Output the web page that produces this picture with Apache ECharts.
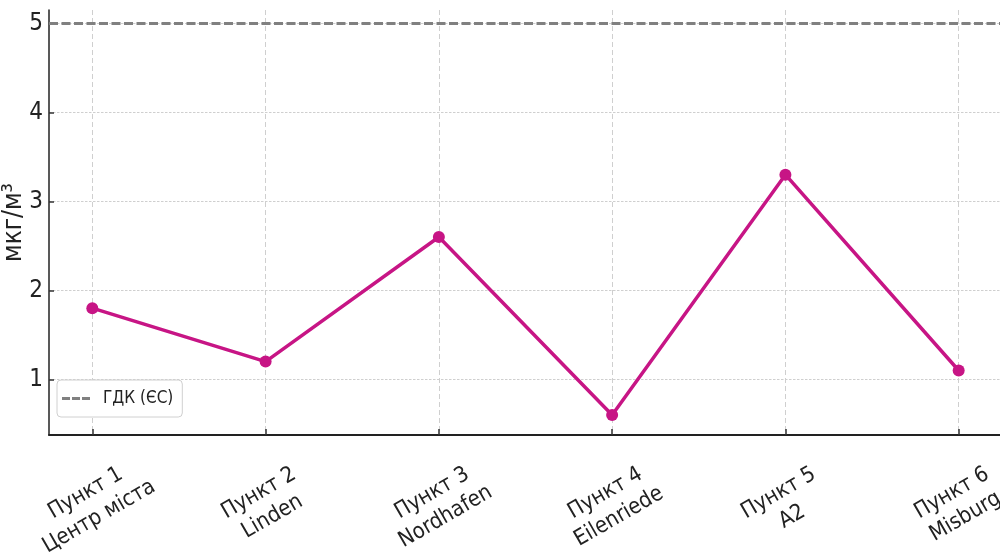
<!DOCTYPE html>
<html>
<head>
<meta charset="utf-8">
<script src="https://cdn.jsdelivr.net/npm/echarts@6/dist/echarts.min.js"></script>
<style>
html,body{margin:0;padding:0;background:#fff;}
#chart{width:1000px;height:559px;}
</style>
</head>
<body>
<div id="chart"></div>
<script>
// ---- data ----
const stations = ['Пункт 1\nЦентр міста', 'Пункт 2\nLinden', 'Пункт 3\nNordhafen', 'Пункт 4\nEilenriede', 'Пункт 5\nA2', 'Пункт 6\nMisburg'];
const values = [1.8, 1.2, 2.6, 0.6, 3.3, 1.1];
const limitValue = 5;
const limitName = 'ГДК (ЄС)';
const yTicks = [1, 2, 3, 4, 5];
const yName = 'мкг/м³';

const FONT = "'DejaVu Sans Condensed', 'DejaVu Sans', sans-serif";
const xIdx = stations.map((s, i) => i);
const lineData = values.map((v, i) => [i, v]);

const chart = echarts.init(document.getElementById('chart'), null, {renderer: 'canvas'});
chart.setOption({
  animation: false,
  backgroundColor: '#ffffff',
  textStyle: {fontFamily: FONT},
  grid: {left: 49, right: -2, top: 10, bottom: 124, containLabel: false, outerBoundsMode: 'none'},
  legend: {
    show: true,
    data: [limitName],
    left: 57, top: 380,
    orient: 'vertical',
    backgroundColor: '#ffffff',
    borderColor: '#d0d0d0',
    borderWidth: 1,
    borderRadius: 4,
    padding: [10, 9, 10, 5],
    itemWidth: 28, itemHeight: 3,
    icon: 'path://M0,0h8v3h-8z M10,0h8v3h-8z M20,0h8v3h-8z',
    itemStyle: {color: '#808080'},
    textStyle: {fontSize: 17, color: '#222', fontFamily: FONT, padding: [0, 0, 0, 8]},
    z: 10
  },
  xAxis: {
    type: 'value',
    min: -0.25, max: 5.25,
    axisLine: {show: true, onZero: false, lineStyle: {color: '#222', width: 2}},
    axisTick: {show: true, inside: true, length: 6, customValues: xIdx, lineStyle: {color: '#333', width: 1.5}},
    axisLabel: {
      customValues: xIdx,
      formatter: v => stations[Math.round(v)],
      rotate: 30,
      align: 'center',
      verticalAlign: 'middle',
      margin: 70,
      fontSize: 22,
      lineHeight: 27,
      color: '#222',
      fontFamily: FONT
    },
    splitLine: {show: true, lineStyle: {type: [5, 3], color: '#cfcfcf', width: 1}}
  },
  yAxis: {
    type: 'value',
    min: 0.375, max: 5.15,
    name: yName,
    nameLocation: 'middle',
    nameGap: 22,
    nameRotate: 90,
    nameMoveOverlap: false,
    nameTextStyle: {fontSize: 26, color: '#222', fontFamily: FONT},
    axisLine: {show: true, onZero: false, lineStyle: {color: '#222', width: 1.5}},
    axisTick: {show: true, inside: true, length: 5, customValues: yTicks, lineStyle: {color: '#333', width: 1.5}},
    axisLabel: {customValues: yTicks, fontSize: 24, margin: 6, color: '#222', fontFamily: FONT},
    splitLine: {show: true, lineStyle: {type: [2.5, 1.5], color: '#cfcfcf', width: 1}}
  },
  series: [
    {
      name: limitName,
      type: 'line',
      data: [],
      color: '#808080',
      lineStyle: {color: '#808080', type: 'dashed', width: 3},
      markLine: {
        silent: true,
        symbol: ['none', 'none'],
        label: {show: false},
        lineStyle: {color: '#808080', type: [9, 3.5], width: 3},
        data: [{yAxis: limitValue}]
      },
      z: 3
    },
    {
      name: 'values',
      type: 'line',
      data: lineData,
      color: '#C71585',
      lineStyle: {color: '#C71585', width: 3.5},
      itemStyle: {color: '#C71585'},
      symbol: 'circle',
      symbolSize: 12,
      showSymbol: true,
      z: 4
    }
  ]
});
</script>
</body>
</html>
